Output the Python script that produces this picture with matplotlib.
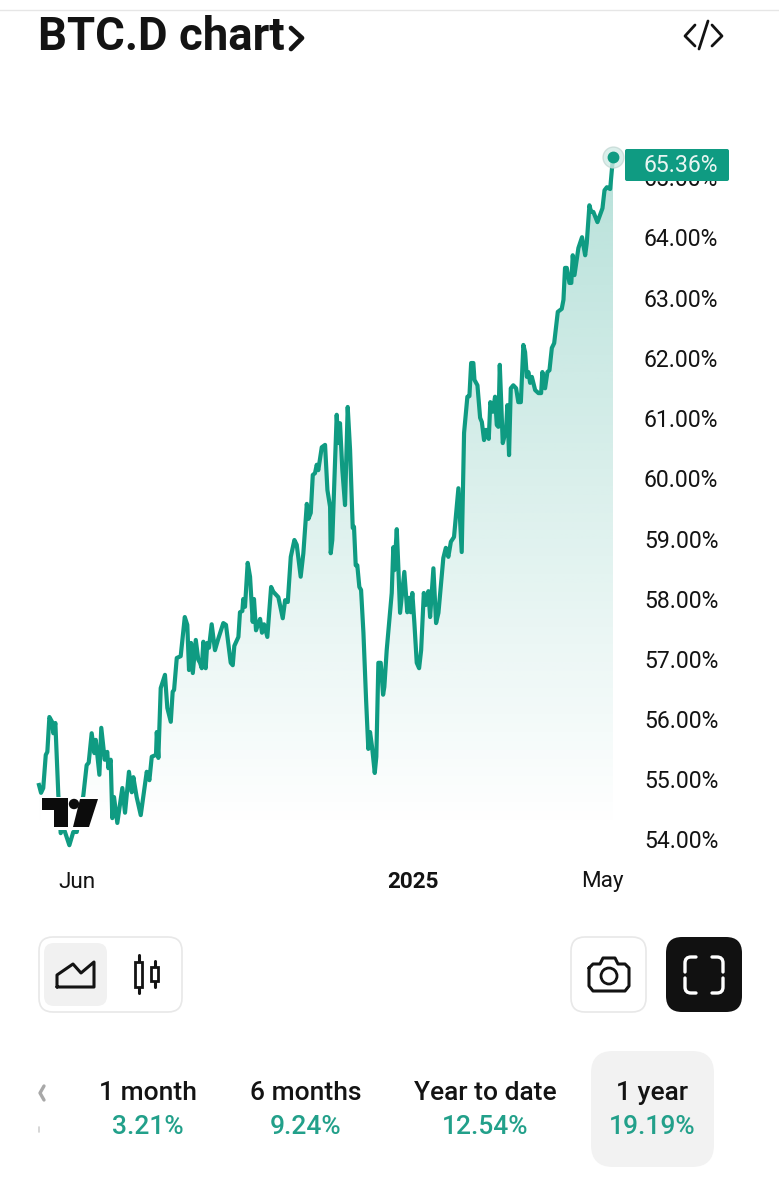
import numpy as np
import matplotlib
matplotlib.use("Agg")
import matplotlib.pyplot as plt
from matplotlib.colors import to_rgb
from matplotlib.patches import FancyBboxPatch, Rectangle, Polygon, Circle, PathPatch
from matplotlib.path import Path

plt.rcParams['font.family'] = ['Roboto', 'DejaVu Sans']

TEAL = '#0f9b82'
TEAL_TEXT = '#22a08a'
BLACK = '#131313'

# days since 8 May 2024
days = [0, 1.3, 2.7, 4.3, 5.3, 6.6, 8.3, 9.1, 10.4, 12.3, 13.8, 15.5, 19.3, 21.8, 24, 28.2, 30.3, 31.6, 33.5, 35.2,
        36.1, 38.4, 39.6, 41.8, 43.4, 44.1, 45.6, 46.6, 47.7, 49.8, 53, 54.7, 57.2, 59, 60, 62.1, 64.7, 68.5, 70.2, 71.7,
        74.4, 74.9, 75.9, 77.4, 80.1, 81.6, 83.8, 85, 85.9, 87.6, 90.1, 92.7, 94.3, 95.4, 96.7, 97.8, 99.7, 101.3,
        102.4, 103.5, 104.5, 106, 107, 108.1, 109.8, 111.9, 114, 117.2, 118.9, 121.9, 123.2, 124.2, 126.8, 127.8, 129.3,
        129.9, 131, 132.7, 134.2, 135.9, 136.7, 138, 140.6, 141.8, 143.1, 145.2, 147.6, 149, 152.2, 155, 156.5, 158.2,
        160.1, 162.4, 163.9, 166.4, 168.1, 170.3, 171.3, 172.8, 174.1, 175.5, 176.6, 177.6, 179.8, 181.9, 183.4, 185.1,
        185.5, 186.5, 189.3, 190.4, 191.4, 192.9, 194.6, 196.3, 197.8, 199.5, 200.3, 201.4, 202.4, 203.7, 204.8, 206.3,
        208, 209.4, 210.5, 211.8, 213.5, 214.5, 215.8, 217.3, 218.8, 219.6, 221.1, 224.3, 225.3, 226, 227.5, 228.5,
        229.6, 232.3, 234.2, 235.5, 236.4, 237.4, 238.7, 240.2, 241.7, 243, 244.7, 245.9, 247.6, 248.7, 250.8, 252.5,
        254, 257.1, 258.7, 260.3, 261.9, 263.9, 266.7, 267.3, 268.8, 270.3, 272.4, 273.7, 274.8, 276.2, 276.9, 278.8,
        280.5, 281.6, 283, 284.3, 286, 287, 288.6, 290, 291.1, 292.1, 293, 294.9, 297, 297.8, 298.9, 300, 301.6, 303.4,
        304.8, 306.4, 308, 309.1, 310.2, 311.2, 312.3, 313.4, 315.5, 317.6, 319.3, 320.1, 321.8, 323.3, 324.6, 326.1,
        327.6, 329.9, 332.4, 333.5, 334.5, 335.6, 337.3, 338.5, 339.4, 340.5, 343, 345.3, 347.3, 348.3, 350, 351.1,
        352.5, 355.1, 358.3, 359.6, 361.1, 363.2, 365]
btc_d = [54.93, 54.80, 54.88, 55.43, 55.48, 56.06, 55.98, 55.79, 55.96, 54.76, 54.13, 54.23, 53.93, 54.15, 54.15, 54.76, 55.26, 55.30, 55.79, 55.46,
         55.68, 55.10, 55.88, 55.35, 55.48, 55.21, 55.35, 54.38, 54.73, 54.30, 54.88, 54.47, 55.15, 54.81, 55.06, 54.73, 54.43, 55.15, 55.01, 55.40,
         55.43, 55.81, 55.38, 56.54, 56.76, 56.21, 55.98, 56.48, 56.51, 57.04, 57.07, 57.72, 57.59, 56.84, 57.29, 56.79, 57.34, 57.01,
         56.96, 56.87, 57.31, 56.87, 57.29, 57.21, 57.60, 57.17, 57.36, 57.62, 57.59, 56.96, 56.92, 57.24, 57.39, 57.80, 57.82,
         58.02, 57.89, 58.62, 58.39, 57.64, 58.02, 57.50, 57.69, 57.46, 57.60, 57.39, 58.22, 58.14, 58.05, 57.70, 58.00, 57.97,
         58.72, 59.00, 58.92, 58.39, 58.78, 59.60, 59.35, 59.45, 60.08, 60.11, 60.25, 60.16, 60.54, 60.58, 59.83, 59.55,
         58.78, 59.00, 61.08, 60.61, 60.94, 60.16, 59.58, 61.21, 60.50, 59.20, 59.22, 58.58, 58.58, 58.22, 58.17, 57.46,
         56.34, 55.53, 55.81, 55.56, 55.13, 55.40, 56.96, 56.96, 56.43, 56.56, 57.17, 58.12, 58.88, 58.50, 59.18, 58.55,
         57.79, 58.47, 57.80, 58.04, 57.80, 58.12, 57.62, 56.96, 56.87, 57.17, 58.12, 57.92, 58.15, 57.72, 58.53, 57.62,
         57.79, 58.70, 58.87, 58.72, 58.97, 59.05, 59.86, 59.55, 58.80, 60.78, 61.38, 61.39, 61.94, 61.94, 61.66, 61.57,
         61.03, 60.96, 60.66, 60.83, 60.68, 61.29, 61.13, 61.38, 60.91, 60.88, 61.91, 60.61, 60.83, 61.24, 60.41, 61.52, 61.57, 61.52,
         61.29, 61.29, 62.24, 62.12, 61.71, 61.79, 61.61, 61.71, 61.49, 61.44, 61.44, 61.79, 61.52, 61.79, 61.82, 62.19,
         62.27, 62.79, 62.84, 62.99, 63.52, 63.52, 63.27, 63.27, 63.73, 63.40, 63.85, 64.03, 63.73, 63.93, 64.56, 64.45,
         64.45, 64.28, 64.51, 64.81, 64.86, 64.83, 65.36]

y_ticks = [54, 55, 56, 57, 58, 59, 60, 61, 62, 63, 64, 65]
x_tick_days = [24, 238, 358]
x_tick_labels = ['Jun', '2025', 'May']

period_names = ['1 month', '6 months', 'Year to date', '1 year']
period_changes = ['3.21%', '9.24%', '12.54%', '19.19%']

W, H = 779, 1200
PX_PER_PCT = 60.2
fig = plt.figure(figsize=(W / 100, H / 100), dpi=100, facecolor='white')


def px_rect(left, top, right, bottom):
    return [left / W, 1 - bottom / H, (right - left) / W, (bottom - top) / H]


# chart area, 54% sits at y=841 px
ax = fig.add_axes(px_rect(39, 100, 613, 841))
ax.set_xlim(0, 365)
ax.set_ylim(54, 54 + (841 - 100) / PX_PER_PCT)
ax.axis('off')

# gradient under the line
grad = np.zeros((256, 1, 4))
grad[:, 0, :3] = to_rgb(TEAL)
grad[:, 0, 3] = np.linspace(0.3, 0, 256)
fill_bottom = 54.18
img = ax.imshow(grad, extent=[0, 365, fill_bottom, max(btc_d)], aspect='auto', origin='upper', zorder=1)
poly = Polygon(list(zip(days, btc_d)) + [(365, 54), (0, 54)], closed=True, transform=ax.transData, fc='none', ec='none')
ax.add_patch(poly)
img.set_clip_path(poly)
ax.set_xlim(0, 365)
ax.set_ylim(54, 54 + (841 - 100) / PX_PER_PCT)

ax.plot(days, btc_d, color=TEAL, lw=3.0, solid_joinstyle='round', clip_on=False, zorder=2)
ax.plot(days[-1], btc_d[-1], 'o', ms=15, mfc='#d3ebe6', mec='#c5d9d5', mew=1, alpha=0.8, clip_on=False, zorder=3)
ax.plot(days[-1], btc_d[-1], 'o', ms=7.5, color=TEAL, clip_on=False, zorder=4)

# overlay in pixel coordinates for app chrome and labels
ui = fig.add_axes([0, 0, 1, 1], facecolor='none')
ui.set_xlim(0, W)
ui.set_ylim(H, 0)
ui.axis('off')


def to_py(value):
    return 841 - (value - 54) * PX_PER_PCT


def to_px(day):
    return 39 + day * 574 / 365


def rbox(x0, y0, x1, y1, r, fc='white', ec='none', lw=1.2, z=2):
    p = FancyBboxPatch((x0 + r, y0 + r), x1 - x0 - 2 * r, y1 - y0 - 2 * r, boxstyle=f'round,pad={r},rounding_size={r}',
                       fc=fc, ec=ec, lw=lw, zorder=z)
    ui.add_patch(p)


def stroke(points, color=BLACK, lw=2.2, z=5):
    xs, ys = zip(*points)
    ui.plot(xs, ys, color=color, lw=lw, solid_capstyle='round', solid_joinstyle='round', zorder=z)


# top hairline and title
ui.plot([0, W], [10, 10], color='#e6e6e6', lw=1)
ui.text(38, 37, 'BTC.D chart', fontsize=32.8, fontweight='semibold', color=BLACK, va='center', ha='left')
stroke([(291, 28), (302, 38), (291, 49)], lw=3.4)
stroke([(695, 25), (685, 36), (695, 46)], lw=2)
stroke([(708, 21), (699, 49)], lw=2)
stroke([(712, 25), (722, 36), (712, 46)], lw=2)

# y axis labels and last value tag
for v in y_ticks:
    ui.text(644, to_py(v) + 1, f'{v:.2f}%', fontsize=16.6, color=BLACK, va='center', ha='left', zorder=2)
rbox(625, 149, 729, 181, 2, fc=TEAL, z=3)
ui.text(644, 166, f'{btc_d[-1]:.2f}%', fontsize=16.6, color='#e8f5f2', va='center', ha='left', zorder=4)

# x axis labels
for d, lab in zip(x_tick_days, x_tick_labels):
    ui.text(to_px(d), 882, lab, fontsize=16.2, color=BLACK, va='center', ha='center',
            fontweight='bold' if lab == '2025' else 'normal')

# tradingview mark
ui.add_patch(Rectangle((41, 797), 58, 33, fc='white', ec='none', zorder=3))
ui.add_patch(Polygon([(42, 798), (68, 798), (68, 827), (54, 827), (54, 810), (42, 810)], fc='#0c0c0c', zorder=4))
ui.add_patch(Circle((74, 804), 5.2, fc='#0c0c0c', zorder=4))
ui.add_patch(Polygon([(80, 799), (98, 799), (89, 827), (73, 827)], fc='#0c0c0c', zorder=4))

# chart type buttons
rbox(39, 937, 182, 1012, 14, ec='#e8e8e8')
rbox(44, 943, 107, 1006, 10, fc='#f1f1f1', z=3)
stroke([(57, 987), (57, 975), (73, 964), (81, 973), (94, 962), (94, 987), (57, 987)])
stroke([(138.6, 955), (138.6, 962)])
stroke([(138.6, 987), (138.6, 993)])
ui.add_patch(Rectangle((135, 962), 7, 25, fc='white', ec=BLACK, lw=2, zorder=5))
stroke([(154.6, 961), (154.6, 967)])
stroke([(154.6, 981), (154.6, 987)])
ui.add_patch(Rectangle((151, 967), 7, 14, fc='white', ec=BLACK, lw=2, zorder=5))

# camera button
rbox(571, 937, 646, 1012, 14, ec='#e8e8e8')
stroke([(589, 968), (589, 986), (593, 991), (625, 991), (629, 986), (629, 968), (625, 964), (618, 964), (615, 958),
        (603, 958), (600, 964), (593, 964), (589, 968)])
ui.add_patch(Circle((609, 976), 8, fc='white', ec=BLACK, lw=2, zorder=5))

# fullscreen button
rbox(666, 937, 742, 1012, 16, fc='#111111')
for cx, cy, sx, sy in [(685, 957, 1, 1), (723, 957, -1, 1), (685, 993, 1, -1), (723, 993, -1, -1)]:
    verts = [(cx, cy + sy * 15), (cx, cy + sy * 6), (cx, cy), (cx + sx * 6, cy), (cx + sx * 11, cy)]
    codes = [Path.MOVETO, Path.LINETO, Path.CURVE3, Path.CURVE3, Path.LINETO]
    ui.add_patch(PathPatch(Path(verts, codes), fc='none', ec='white', lw=2.4, capstyle='round', zorder=5))

# period tabs
rbox(591, 1051, 714, 1167, 22, fc='#f2f2f2')
stroke([(44, 1086), (40, 1093), (44, 1100)], color='#a8a8a8', lw=2.4)
stroke([(39, 1127), (39, 1132)], color='#cfcfcf', lw=1.2)
for cx, name, chg in zip([148, 305.5, 485, 652.5], period_names, period_changes):
    ui.text(cx, 1093, name, fontsize=19, fontweight='medium', color=BLACK, va='center', ha='center', zorder=5)
    ui.text(cx, 1127, chg, fontsize=19, fontweight='medium', color=TEAL_TEXT, va='center', ha='center', zorder=5)

fig.savefig('out.png', dpi=100)
